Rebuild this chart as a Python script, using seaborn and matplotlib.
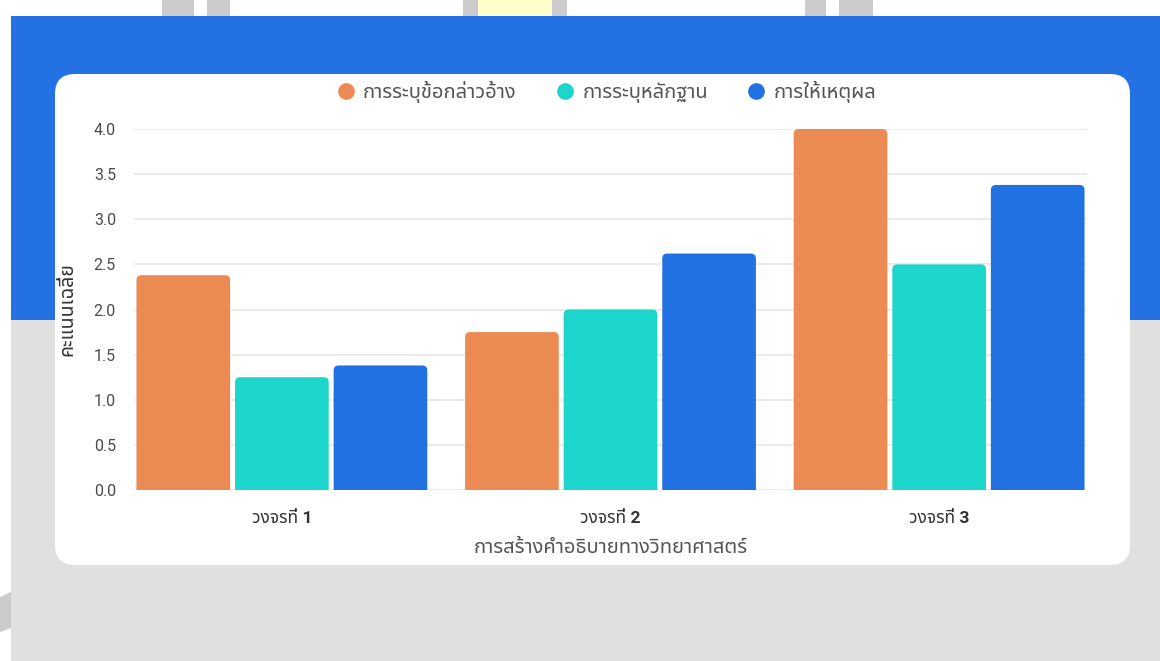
import numpy as np
import pandas as pd
import matplotlib
matplotlib.use("Agg")
import matplotlib.pyplot as plt
import seaborn as sns
from matplotlib import font_manager
from matplotlib.ft2font import FT2Font
from matplotlib.patches import Rectangle, FancyBboxPatch, Polygon
from matplotlib.lines import Line2D

# data
cycles = ["วงจรที่ 1", "วงจรที่ 2", "วงจรที่ 3"]
skills = ["การระบุข้อกล่าวอ้าง", "การระบุหลักฐาน", "การให้เหตุผล"]
claim_scores = [2.38, 1.75, 4.00]
evidence_scores = [1.25, 2.00, 2.50]
reasoning_scores = [1.38, 2.62, 3.38]
y_ticks = [0.0, 0.5, 1.0, 1.5, 2.0, 2.5, 3.0, 3.5, 4.0]
x_title = "การสร้างคำอธิบายทางวิทยาศาสตร์"
y_title = "คะแนนเฉลี่ย"
colors = ["#EC8A53", "#1DD6CB", "#2271E3"]


def find_thai_font():
    preferred = ["Noto Sans Thai", "Noto Sans Thai UI", "Noto Sans Thai Looped",
                 "Prompt", "Kanit", "Sarabun", "Loma", "Garuda", "Waree",
                 "Umpush", "Laksaman", "Norasi", "Kinnari", "Sawasdee",
                 "Tlwg Typo", "TlwgTypo", "FreeSans", "FreeSerif", "Noto Serif Thai"]
    names = {f.name for f in font_manager.fontManager.ttflist}
    for n in preferred:
        if n in names:
            return n
    for f in font_manager.fontManager.ttflist:
        try:
            if 0x0E01 in FT2Font(f.fname).get_charmap():
                return f.name
        except Exception:
            pass
    return None


sns.set_theme(style="white")
thai = find_thai_font()
families = ["Roboto"] + ([thai] if thai else []) + ["DejaVu Sans"]
plt.rcParams["font.family"] = families

df = pd.DataFrame({
    "cycle": cycles * 3,
    "skill": [skills[0]] * 3 + [skills[1]] * 3 + [skills[2]] * 3,
    "score": claim_scores + evidence_scores + reasoning_scores,
})

W, H = 1160, 661
fig = plt.figure(figsize=(W / 100, H / 100), dpi=100)
fig.patch.set_facecolor("white")

# page background behind the card
bg = fig.add_axes([0, 0, 1, 1], zorder=-5)
bg.set_xlim(0, W)
bg.set_ylim(H, 0)
bg.axis("off")
bg.add_patch(Rectangle((11, 16), W - 11, 304, color="#2371E3", lw=0))
bg.add_patch(Rectangle((11, 320), W - 11, H - 320, color="#E0E0E0", lw=0))
for x0, x1, c in [(162, 194, "#CCCCCC"), (207, 230, "#CCCCCC"), (463, 478, "#CCCCCC"),
                  (478, 552, "#FFFFCC"), (552, 567, "#CCCCCC"), (805, 826, "#CCCCCC"),
                  (839, 873, "#CCCCCC")]:
    bg.add_patch(Rectangle((x0, 0), x1 - x0, 16, color=c, lw=0))
bg.add_patch(Polygon([(0, 597), (11, 592), (11, 628), (0, 632)], color="#CCCCCC", lw=0))
bg.add_patch(FancyBboxPatch((75, 94), 1035, 451, boxstyle="round,pad=20,rounding_size=20",
                            facecolor="white", edgecolor="none"))

# chart area
left, right, bottom, top = 134, 1087, 490, 129
ax = fig.add_axes([left / W, (H - bottom) / H, (right - left) / W, (bottom - top) / H])
ax.set_facecolor("none")
sns.barplot(data=df, x="cycle", y="score", hue="skill", hue_order=skills,
            palette=colors, width=0.9, gap=0.05, saturation=1, ax=ax,
            legend=False, err_kws={"linewidth": 0})
ax.set_xlim(-0.45, 2.45)
ax.set_ylim(0, 4.0)

# rounded bar tops
px_x = (right - left) / 2.9
px_y = (bottom - top) / 4.0
r = 5 / px_x
for p in list(ax.patches):
    x, y, w, h = p.get_x(), p.get_y(), p.get_width(), p.get_height()
    fc = p.get_facecolor()
    p.remove()
    ax.add_patch(FancyBboxPatch((x, y - 0.1), w, h + 0.1,
                                boxstyle=f"round,pad=0,rounding_size={r}",
                                mutation_aspect=px_x / px_y,
                                facecolor=fc, edgecolor="none", zorder=2))

ax.set_yticks(y_ticks)
ax.set_yticklabels([f"{v:.1f}" for v in y_ticks])
ax.yaxis.grid(True, color="#E6E6E6", linewidth=1.2)
ax.set_axisbelow(True)
for s in ax.spines.values():
    s.set_visible(False)
ax.tick_params(axis="y", length=0, pad=13, labelsize=11.5, labelcolor="#4A4A4A")
ax.tick_params(axis="x", length=0, pad=15, labelsize=12.5, labelcolor="#333333")
for t in ax.get_xticklabels():
    t.set_fontweight("bold")
ax.set_xlabel(x_title, fontsize=14.5, color="#555555", labelpad=9)
ax.set_ylabel(y_title, fontsize=14, color="#333333", fontweight="bold")
ax.yaxis.set_label_coords(-0.06, 0.5)

handles = [Line2D([], [], marker="o", linestyle="none", markersize=11,
                  markerfacecolor=c, markeredgecolor=c) for c in colors]
fig.legend(handles, skills, loc="center", bbox_to_anchor=(606 / W, 1 - 92 / H),
           ncol=3, frameon=False, fontsize=14.5, labelcolor="#555555",
           handletextpad=0.35, columnspacing=1.9, handlelength=1.0)

fig.savefig("out.png", dpi=100)
